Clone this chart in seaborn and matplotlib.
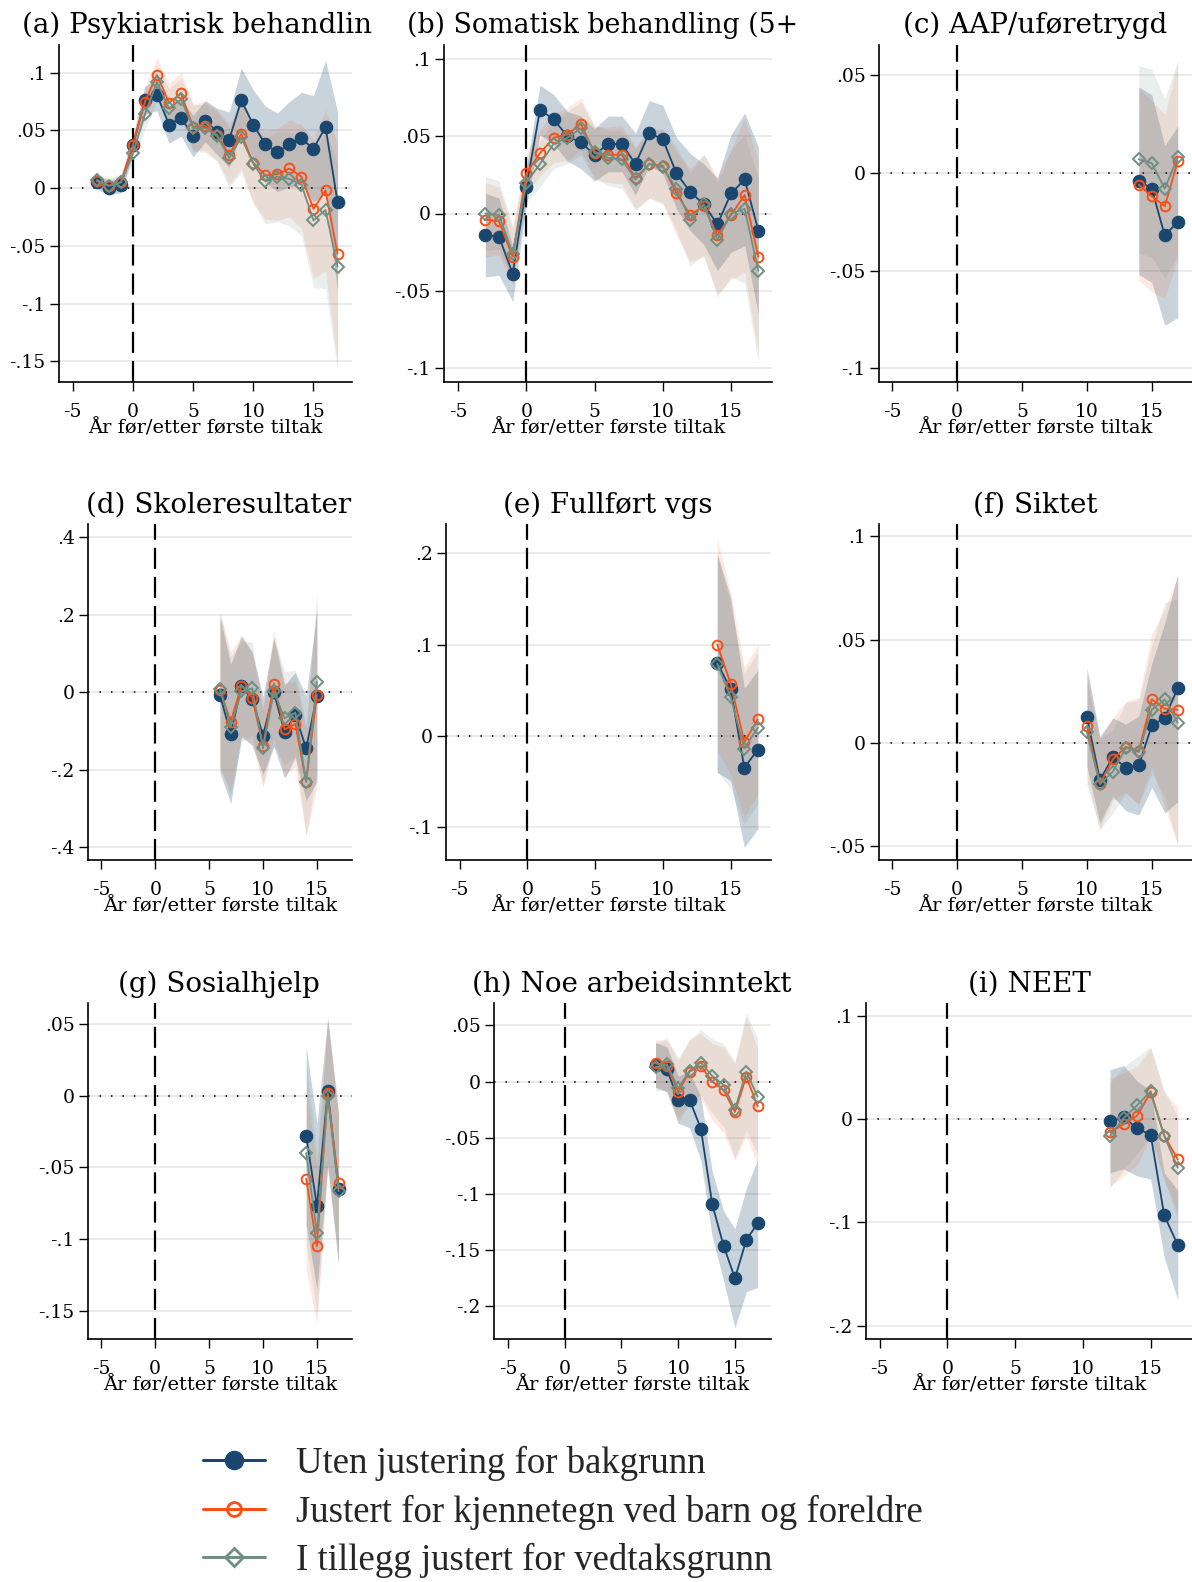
import numpy as np
import pandas as pd
import matplotlib
matplotlib.use("Agg")
import matplotlib.pyplot as plt
import seaborn as sns
from matplotlib.lines import Line2D
from matplotlib.ticker import FuncFormatter

# ---------------- data ----------------
a_x = list(range(-3, 18))
a_uten = [0.0055, 0.0, 0.003, 0.037, 0.076, 0.081, 0.055, 0.061, 0.045, 0.058, 0.049,
          0.042, 0.076, 0.055, 0.038, 0.031, 0.038, 0.043, 0.034, 0.053, -0.012]
a_uten_ci = [0.006, 0.006, 0.007, 0.008, 0.012, 0.014, 0.016, 0.016, 0.018, 0.018, 0.02,
             0.024, 0.028, 0.03, 0.033, 0.034, 0.037, 0.04, 0.046, 0.058, 0.078]
a_just = [0.006, 0.002, 0.005, 0.037, 0.075, 0.098, 0.074, 0.082, 0.053, 0.054, 0.046,
          0.029, 0.047, 0.022, 0.011, 0.012, 0.017, 0.010, -0.018, -0.002, -0.057]
a_just_ci = [0.006, 0.006, 0.007, 0.008, 0.013, 0.015, 0.017, 0.018, 0.02, 0.021, 0.022,
             0.026, 0.03, 0.035, 0.038, 0.04, 0.042, 0.045, 0.06, 0.07, 0.095]
a_vedtak = [0.007, 0.002, 0.005, 0.030, 0.064, 0.092, 0.069, 0.077, 0.052, 0.052, 0.045,
            0.026, 0.044, 0.021, 0.006, 0.010, 0.008, 0.003, -0.028, -0.019, -0.068]
a_vedtak_ci = [0.006, 0.006, 0.007, 0.008, 0.013, 0.015, 0.017, 0.018, 0.02, 0.021, 0.022,
               0.026, 0.03, 0.034, 0.037, 0.039, 0.041, 0.044, 0.058, 0.068, 0.09]

b_x = list(range(-3, 18))
b_uten = [-0.014, -0.015, -0.039, 0.017, 0.067, 0.061, 0.050, 0.046, 0.038, 0.045, 0.045,
          0.032, 0.052, 0.048, 0.026, 0.014, 0.006, -0.007, 0.013, 0.022, -0.011]
b_uten_ci = [0.027, 0.025, 0.018, 0.012, 0.016, 0.016, 0.016, 0.017, 0.017, 0.018, 0.018,
             0.02, 0.021, 0.022, 0.023, 0.025, 0.026, 0.03, 0.038, 0.043, 0.054]
b_just = [-0.004, -0.005, -0.028, 0.026, 0.039, 0.049, 0.051, 0.058, 0.039, 0.038, 0.038,
          0.023, 0.032, 0.031, 0.013, -0.001, 0.005, -0.014, -0.001, 0.012, -0.028]
b_just_ci = [0.024, 0.022, 0.018, 0.013, 0.015, 0.016, 0.017, 0.017, 0.017, 0.018, 0.019,
             0.02, 0.022, 0.024, 0.027, 0.03, 0.033, 0.038, 0.042, 0.05, 0.062]
b_vedtak = [0.0, -0.001, -0.026, 0.020, 0.032, 0.045, 0.049, 0.055, 0.040, 0.036, 0.035,
            0.022, 0.032, 0.030, 0.016, -0.004, 0.006, -0.017, 0.0, 0.003, -0.037]
b_vedtak_ci = [0.024, 0.022, 0.018, 0.013, 0.015, 0.016, 0.017, 0.017, 0.017, 0.018, 0.019,
               0.02, 0.022, 0.024, 0.027, 0.03, 0.033, 0.037, 0.041, 0.048, 0.06]

c_x = [14, 15, 16, 17]
c_uten = [-0.004, -0.008, -0.032, -0.025]
c_uten_ci = [0.048, 0.048, 0.046, 0.049]
c_just = [-0.006, -0.012, -0.017, 0.006]
c_just_ci = [0.049, 0.049, 0.047, 0.05]
c_vedtak = [0.007, 0.005, -0.008, 0.008]
c_vedtak_ci = [0.048, 0.048, 0.046, 0.05]

d_x = list(range(6, 16))
d_uten = [-0.007, -0.108, 0.015, -0.018, -0.112, 0.0, -0.102, -0.059, -0.145, -0.011]
d_uten_ci = [0.2, 0.18, 0.13, 0.12, 0.1, 0.14, 0.12, 0.11, 0.135, 0.22]
d_just = [0.006, -0.076, 0.017, -0.014, -0.14, 0.022, -0.096, -0.082, -0.231, -0.007]
d_just_ci = [0.2, 0.18, 0.13, 0.12, 0.1, 0.14, 0.12, 0.11, 0.14, 0.24]
d_vedtak = [0.009, -0.089, 0.002, 0.010, -0.145, 0.002, -0.067, -0.053, -0.231, 0.027]
d_vedtak_ci = [0.2, 0.18, 0.13, 0.12, 0.1, 0.14, 0.12, 0.11, 0.14, 0.23]

e_x = [14, 15, 16, 17]
e_uten = [0.080, 0.051, -0.035, -0.015]
e_uten_ci = [0.12, 0.1, 0.087, 0.087]
e_just = [0.100, 0.057, -0.007, 0.018]
e_just_ci = [0.116, 0.1, 0.082, 0.082]
e_vedtak = [0.079, 0.042, -0.014, 0.009]
e_vedtak_ci = [0.118, 0.1, 0.083, 0.083]

f_x = list(range(10, 18))
f_uten = [0.0125, -0.018, -0.007, -0.012, -0.011, 0.0084, 0.012, 0.0265]
f_uten_ci = [0.024, 0.021, 0.019, 0.021, 0.024, 0.03, 0.046, 0.055]
f_just = [0.008, -0.020, -0.008, -0.002, -0.004, 0.021, 0.0165, 0.016]
f_just_ci = [0.026, 0.022, 0.02, 0.022, 0.026, 0.032, 0.048, 0.065]
f_vedtak = [0.005, -0.020, -0.014, -0.0024, -0.0045, 0.016, 0.021, 0.0097]
f_vedtak_ci = [0.025, 0.022, 0.02, 0.022, 0.025, 0.031, 0.047, 0.06]

g_x = [14, 15, 16, 17]
g_uten = [-0.028, -0.077, 0.003, -0.065]
g_uten_ci = [0.062, 0.058, 0.051, 0.052]
g_just = [-0.058, -0.105, 0.0016, -0.061]
g_just_ci = [0.064, 0.055, 0.052, 0.054]
g_vedtak = [-0.040, -0.096, 0.0, -0.0666]
g_vedtak_ci = [0.063, 0.056, 0.052, 0.053]

h_x = list(range(8, 18))
h_uten = [0.0149, 0.011, -0.016, -0.016, -0.042, -0.109, -0.146, -0.175, -0.141, -0.126]
h_uten_ci = [0.02, 0.02, 0.021, 0.025, 0.028, 0.029, 0.031, 0.044, 0.046, 0.057]
h_just = [0.0164, 0.014, -0.009, 0.009, 0.014, 0.0, -0.0074, -0.027, 0.0045, -0.022]
h_just_ci = [0.021, 0.023, 0.028, 0.028, 0.029, 0.034, 0.038, 0.043, 0.053, 0.052]
h_vedtak = [0.0128, 0.0155, -0.006, 0.0098, 0.017, 0.005, -0.003, -0.025, 0.009, -0.0134]
h_vedtak_ci = [0.021, 0.023, 0.027, 0.028, 0.029, 0.033, 0.037, 0.043, 0.052, 0.052]

i_x = list(range(12, 18))
i_uten = [-0.002, 0.002, -0.009, -0.015, -0.093, -0.122]
i_uten_ci = [0.05, 0.05, 0.046, 0.043, 0.041, 0.053]
i_just = [-0.0126, -0.005, 0.0035, 0.026, -0.016, -0.039]
i_just_ci = [0.052, 0.05, 0.048, 0.043, 0.043, 0.05]
i_vedtak = [-0.016, 0.001, 0.0135, 0.027, -0.016, -0.047]
i_vedtak_ci = [0.051, 0.05, 0.047, 0.043, 0.043, 0.05]

titles = ["(a) Psykiatrisk behandlin", "(b) Somatisk behandling (5+", "(c) AAP/uføretrygd",
          "(d) Skoleresultater", "(e) Fullført vgs", "(f) Siktet",
          "(g) Sosialhjelp", "(h) Noe arbeidsinntekt", "(i) NEET"]
series_labels = ["Uten justering for bakgrunn",
                 "Justert for kjennetegn ved barn og foreldre",
                 "I tillegg justert for vedtaksgrunn"]
xlabel = "År før/etter første tiltak"
xticks = [-5, 0, 5, 10, 15]
yticks_all = [[0.1, 0.05, 0, -0.05, -0.1, -0.15],
              [0.1, 0.05, 0, -0.05, -0.1],
              [0.05, 0, -0.05, -0.1],
              [0.4, 0.2, 0, -0.2, -0.4],
              [0.2, 0.1, 0, -0.1],
              [0.1, 0.05, 0, -0.05],
              [0.05, 0, -0.05, -0.1, -0.15],
              [0.05, 0, -0.05, -0.1, -0.15, -0.2],
              [0.1, 0, -0.1, -0.2]]

# ---------------- layout / style ----------------
W, H = 1192, 1582
NAVY = "#1a476f"
ORANGE = "#fb4f14"
GREEN = "#6f8f83"

boxes = [(59, 45, 352, 382), (444, 45, 772, 382), (879, 45, 1192, 382),
         (88, 524, 352, 860), (446, 524, 771, 860), (879, 524, 1192, 860),
         (88, 1003, 352, 1339), (494, 1003, 771, 1339), (866, 1003, 1192, 1339)]
xlims = [(-6.14, 18.2), (-6.03, 18.0), (-6.03, 18.1), (-6.25, 18.26), (-6.01, 17.97),
         (-6.03, 18.1), (-6.23, 18.25), (-6.24, 18.18), (-6.01, 18.05)]
ylims = [(-0.168, 0.124), (-0.109, 0.109), (-0.107, 0.0655), (-0.433, 0.434),
         (-0.136, 0.232), (-0.0568, 0.106), (-0.1697, 0.0646), (-0.229, 0.070),
         (-0.213, 0.1126)]
title_pos = [(22, 33, "left", 20), (407, 33, "left", 19.3), (1035, 33, "center", 20),
             (219, 513, "center", 20), (608, 513, "center", 20), (1035, 513, "center", 20),
             (219, 992, "center", 20), (632, 992, "center", 20), (1029, 992, "center", 20)]

sns.set_theme(style="white")
plt.rcParams['font.family'] = ['DejaVu Serif', 'DejaVu Sans']
plt.rcParams['axes.unicode_minus'] = False


def stata_fmt(v, pos=None):
    if abs(v) < 1e-12:
        return "0"
    s = f"{v:g}"
    s = s.replace("0.", ".")
    return s


fig = plt.figure(figsize=(W / 100, H / 100), dpi=100)
fig.patch.set_facecolor("white")

panel_data = [
    (a_x, a_uten, a_uten_ci, a_just, a_just_ci, a_vedtak, a_vedtak_ci),
    (b_x, b_uten, b_uten_ci, b_just, b_just_ci, b_vedtak, b_vedtak_ci),
    (c_x, c_uten, c_uten_ci, c_just, c_just_ci, c_vedtak, c_vedtak_ci),
    (d_x, d_uten, d_uten_ci, d_just, d_just_ci, d_vedtak, d_vedtak_ci),
    (e_x, e_uten, e_uten_ci, e_just, e_just_ci, e_vedtak, e_vedtak_ci),
    (f_x, f_uten, f_uten_ci, f_just, f_just_ci, f_vedtak, f_vedtak_ci),
    (g_x, g_uten, g_uten_ci, g_just, g_just_ci, g_vedtak, g_vedtak_ci),
    (h_x, h_uten, h_uten_ci, h_just, h_just_ci, h_vedtak, h_vedtak_ci),
    (i_x, i_uten, i_uten_ci, i_just, i_just_ci, i_vedtak, i_vedtak_ci),
]

styles = [
    dict(color=NAVY, marker="o", markersize=9, markerfacecolor=NAVY,
         markeredgecolor=NAVY, markeredgewidth=0.8),
    dict(color=ORANGE, marker="o", markersize=7, markerfacecolor="none",
         markeredgecolor=ORANGE, markeredgewidth=1.4),
    dict(color=GREEN, marker="D", markersize=6.3, markerfacecolor="none",
         markeredgecolor=GREEN, markeredgewidth=1.4),
]
band_alpha = [0.24, 0.12, 0.14]

for k in range(9):
    l, t, r, b = boxes[k]
    ax = fig.add_axes([l / W, 1 - b / H, (r - l) / W, (b - t) / H])
    ax.set_facecolor("white")
    x, u, uci, j, jci, v, vci = panel_data[k]
    df = pd.DataFrame({"x": x, "uten": u, "just": j, "vedtak": v,
                       "uci": uci, "jci": jci, "vci": vci})
    cols = [("uten", "uci"), ("just", "jci"), ("vedtak", "vci")]
    for (c, ci), st, al in zip(cols, styles, band_alpha):
        ax.fill_between(df["x"], df[c] - df[ci], df[c] + df[ci],
                        color=st["color"], alpha=al, linewidth=0, zorder=2)
    ax.axhline(0, color="black", lw=1.1, ls=(0, (1, 6.5)), zorder=3)
    ax.axvline(0, color="black", lw=1.6, dashes=(9.5, 3.6), zorder=3)
    for (c, ci), st in zip(cols, styles):
        sns.lineplot(data=df, x="x", y=c, ax=ax, linewidth=1.3, sort=False,
                     estimator=None, errorbar=None, zorder=4, **st)
    ax.set_xlim(*xlims[k])
    ax.set_ylim(*ylims[k])
    ax.set_xticks(xticks)
    ax.set_xticklabels([str(t_) for t_ in xticks])
    ax.set_yticks(yticks_all[k])
    ax.yaxis.set_major_formatter(FuncFormatter(stata_fmt))
    ax.yaxis.grid(True, color="#e9e9e9", lw=1.3)
    ax.xaxis.grid(False)
    ax.set_axisbelow(True)
    sns.despine(ax=ax)
    for sp in ("left", "bottom"):
        ax.spines[sp].set_color("black")
        ax.spines[sp].set_linewidth(1.2)
    ax.tick_params(axis="both", which="major", bottom=True, left=True,
                   direction="out", length=6.5, width=1.0, color="black",
                   labelsize=13.5, labelcolor="black")
    ax.tick_params(axis="x", pad=8.5)
    ax.tick_params(axis="y", pad=3)
    ax.set_xlabel(xlabel, fontsize=14, labelpad=-1, color="black")
    ax.set_ylabel("")
    tx, ty, ha, fs = title_pos[k]
    fig.text(tx / W, 1 - ty / H, titles[k], ha=ha, va="baseline",
             fontsize=fs, color="black")

handles = [Line2D([], [], color=NAVY, lw=2.2, marker="o", ms=13,
                  markerfacecolor=NAVY, markeredgecolor=NAVY),
           Line2D([], [], color=ORANGE, lw=2.2, marker="o", ms=10,
                  markerfacecolor="none", markeredgecolor=ORANGE, markeredgewidth=2),
           Line2D([], [], color=GREEN, lw=2.2, marker="D", ms=9,
                  markerfacecolor="none", markeredgecolor=GREEN, markeredgewidth=2)]
fig.legend(handles, series_labels, loc="upper left",
           bbox_to_anchor=(203 / W, 1 - 1446 / H), frameon=False,
           prop={"family": "Liberation Serif", "size": 26.5},
           handlelength=1.68, handletextpad=0.84, labelspacing=0.36,
           borderpad=0, borderaxespad=0, numpoints=1)

fig.savefig("out.png", dpi=100, facecolor="white")
